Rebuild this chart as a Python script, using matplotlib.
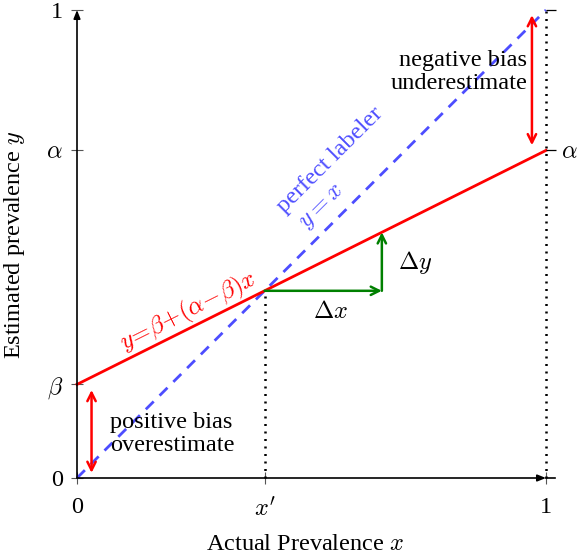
import matplotlib
matplotlib.use("Agg")
import matplotlib.pyplot as plt
import numpy as np

plt.rcParams['font.family'] = ['Liberation Serif', 'DejaVu Serif']
plt.rcParams['mathtext.fontset'] = 'cm'

# data
alpha = 0.7
beta = 0.2
x_prime = 0.4
dx_end = 0.65
red_x = [0.0, 1.0]
red_y = [beta, alpha]
perfect_x = [0.0, 1.0]
perfect_y = [0.0, 1.0]
xticks = [0.0, x_prime, 1.0]
xticklabels = ['0', r"$x'$", '1']
yticks = [0.0, beta, alpha, 1.0]
yticklabels = ['0', r'$\beta$', r'$\alpha$', '1']

RED = '#ff0000'
BLUE = '#4d4dff'
GREEN = '#008000'
FS = 17.5

fig = plt.figure(figsize=(5.78, 5.54), dpi=100)
ax = fig.add_axes([77/578, 76/554, 469/578, 468/554])
ax.set_xlim(0, 1)
ax.set_ylim(0, 1)
for s in ax.spines.values():
    s.set_visible(False)

# axes arrows
ax.annotate('', xy=(0, 1.0), xytext=(0, 0), xycoords='data',
            arrowprops=dict(arrowstyle='-|>,head_length=0.5,head_width=0.2', lw=1.2,
                            color='black', shrinkA=0, shrinkB=0),
            annotation_clip=False)
ax.annotate('', xy=(1.0, 0), xytext=(0, 0),
            arrowprops=dict(arrowstyle='-|>,head_length=0.5,head_width=0.2', lw=1.2,
                            color='black', shrinkA=0, shrinkB=0),
            annotation_clip=False)
ax.plot([1.0, 1.02], [0, 0], color='black', lw=1.2, clip_on=False)

# ticks
ax.set_xticks(xticks)
ax.set_xticklabels(xticklabels, fontsize=FS)
ax.set_yticks(yticks)
ax.set_yticklabels(yticklabels, fontsize=FS)
ax.tick_params(axis='both', direction='inout', length=8, width=0.8, color='#555555', pad=6)
ax.tick_params(axis='x', pad=10)

ax2 = ax.twinx()
ax2.set_ylim(0, 1)
for s in ax2.spines.values():
    s.set_visible(False)
ax2.set_yticks([alpha, 1.0])
ax2.set_yticklabels([r'$\alpha$', ''], fontsize=FS)
ax2.tick_params(axis='y', direction='out', length=7, width=0.9, color='black', pad=4)
ax2.set_xlim(0, 1)

# dotted verticals
ax.plot([x_prime, x_prime], [0, x_prime], color='black', lw=1.8, ls=(0, (0.8, 2.2)), clip_on=False)
ax.plot([1.0, 1.0], [0, 1.0], color='black', lw=1.8, ls=(0, (0.8, 2.2)), clip_on=False)

# lines
ax.plot(perfect_x, perfect_y, color=BLUE, lw=2.0, ls=(0, (4, 3)), clip_on=False)
ax.plot(red_x, red_y, color=RED, lw=2.0, clip_on=False)

# green delta arrows
dy_end = beta + (alpha - beta) * dx_end
ax.annotate('', xy=(dx_end, x_prime), xytext=(x_prime, x_prime),
            arrowprops=dict(arrowstyle='->', lw=1.8, color=GREEN, shrinkA=0, shrinkB=0,
                            mutation_scale=15))
ax.annotate('', xy=(dx_end, dy_end), xytext=(dx_end, x_prime),
            arrowprops=dict(arrowstyle='->', lw=1.8, color=GREEN, shrinkA=0, shrinkB=0,
                            mutation_scale=15))
ax.text(0.54, 0.355, r'$\Delta x$', fontsize=FS, ha='center', va='center')
ax.text(0.72, 0.46, r'$\Delta y$', fontsize=FS, ha='center', va='center')

# bias arrows
ax.annotate('', xy=(0.97, 0.989), xytext=(0.97, 0.711),
            arrowprops=dict(arrowstyle='<->', lw=1.8, color=RED, shrinkA=0, shrinkB=0,
                            mutation_scale=15))
ax.annotate('', xy=(0.031, 0.188), xytext=(0.031, 0.011),
            arrowprops=dict(arrowstyle='<->', lw=1.8, color=RED, shrinkA=0, shrinkB=0,
                            mutation_scale=15))
ax.text(0.96, 0.867, 'negative bias\nunderestimate', fontsize=FS, ha='right', va='center',
        linespacing=1.15)
ax.text(0.07, 0.094, 'positive bias\noverestimate', fontsize=FS, ha='left', va='center',
        linespacing=1.15)

# rotated labels
ang_red = np.degrees(np.arctan((alpha - beta) * (468/469)))
ax.text(0.237, 0.355, r'$y\!=\!\beta\!+\!(\alpha\!-\!\beta)x$', fontsize=FS, color=RED,
        rotation=ang_red, rotation_mode='anchor', ha='center', va='center')
ang_blue = np.degrees(np.arctan(468/469))
ax.text(0.54, 0.68, 'perfect labeler', fontsize=FS, color=BLUE,
        rotation=ang_blue, rotation_mode='anchor', ha='center', va='center')
ax.text(0.524, 0.579, r'$y = x$', fontsize=FS, color=BLUE,
        rotation=ang_blue, rotation_mode='anchor', ha='center', va='center')

# axis labels
fig.text(305/578, 1 - 545/554, r'Actual Prevalence $x$', fontsize=FS, ha='center', va='center')
fig.text(15/578, 1 - 245/554, r'Estimated prevalence $y$', fontsize=FS, ha='center', va='center',
         rotation=90)

fig.savefig('out.png', dpi=100)
